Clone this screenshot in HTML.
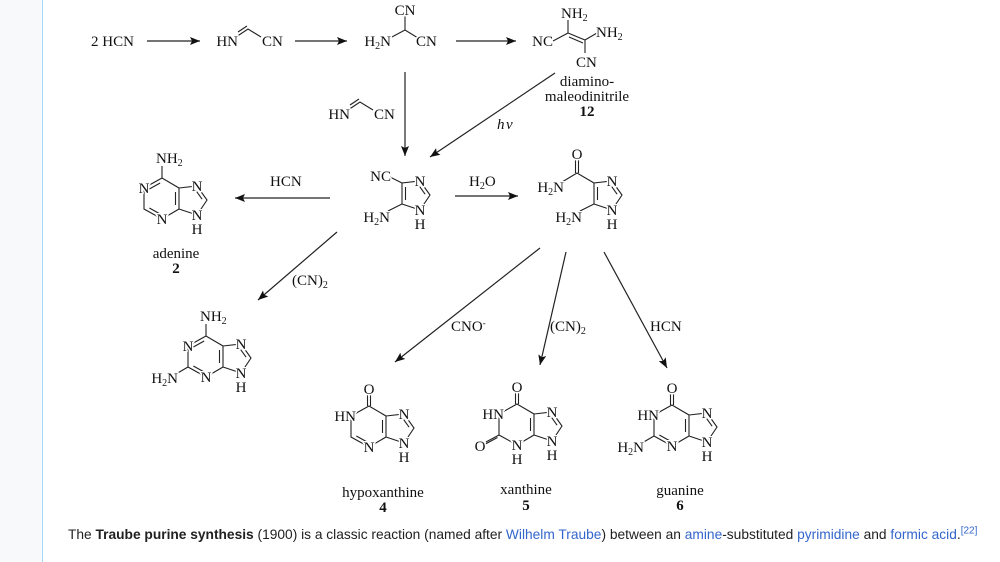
<!DOCTYPE html>
<html><head><meta charset="utf-8"><style>
html,body{margin:0;padding:0;background:#fff;}
body{width:1000px;height:562px;position:relative;overflow:hidden;}
.side{position:absolute;left:0;top:0;width:42px;height:562px;background:#f8f9fa;border-right:1px solid #a7d7f9;}
svg{position:absolute;left:0;top:0;}
svg text{font-family:"Liberation Serif",serif;font-size:15px;fill:#111;stroke:#fff;stroke-width:3px;paint-order:stroke;stroke-linejoin:round;}
svg text.nb{stroke:none;}
.cap{position:absolute;left:68px;top:527px;font-family:"Liberation Sans",Arial,sans-serif;font-size:13.75px;color:#202122;white-space:nowrap;}
.cap a{color:#3366cc;text-decoration:none;}
.cap sup{font-size:10px;line-height:0;}
</style></head><body>
<div class="side"></div>
<svg width="1000" height="562" viewBox="0 0 1000 562">
<defs>
<marker id="ah" viewBox="0 0 10 8" refX="10" refY="4" markerWidth="10" markerHeight="8" markerUnits="userSpaceOnUse" orient="auto">
<path d="M0,0 L10,4 L0,8 L2,4 z" fill="#111"/>
</marker>
<g id="pur" stroke="#222" stroke-width="1.1" fill="none">
<path d="M0,0 L-18,10 L-18,31 L0,41 L17,31 L17,10 Z M17,10 L35,8 L45,22 L35,37 L17,31"/>
<path d="M13.5,14 L13.5,27 M34.1,12.8 L40.1,21.2"/>
</g>
<g id="imd" stroke="#222" stroke-width="1.1" fill="none">
<path d="M17,10 L17,31 L35,37 L45,22 L35,8 Z M20.5,14 L20.5,27 M34.1,12.8 L40.1,21.2"/>
</g>
</defs>

<g stroke="#222" stroke-width="1.2" fill="none" marker-end="url(#ah)">
<line x1="147" y1="41" x2="200" y2="41"/>
<line x1="295" y1="41" x2="347" y2="41"/>
<line x1="456" y1="41" x2="516" y2="41"/>
<line x1="405" y1="72" x2="405" y2="156"/>
<line x1="555" y1="73" x2="430" y2="157"/>
<line x1="330" y1="198" x2="235" y2="198"/>
<line x1="455" y1="196" x2="518" y2="196"/>
<line x1="337" y1="232" x2="258" y2="300"/>
<line x1="540" y1="248" x2="395" y2="362"/>
<line x1="566" y1="252" x2="540" y2="365"/>
<line x1="604" y1="252" x2="667" y2="368"/>
</g>

<text class="nb" x="91" y="46">2 HCN</text>
<g stroke="#222" stroke-width="1.1" fill="none">
<path d="M236,37 L248,29 L261,37 M238,32 L247,26"/>
<path d="M348,110 L360,102 L373,110 M350,105 L359,99"/>
<path d="M390,38 L405,30 L418,38 M405,30 L405,16"/>
<path d="M553,41 L568,33 L568,20 M568,33 L585,40 L597,33 M585,40 L585,53 M569,37 L583,43"/>
</g>
<text x="238" y="46" text-anchor="end">HN</text>
<text x="262" y="46">CN</text>
<text x="350" y="119" text-anchor="end">HN</text>
<text x="374" y="119">CN</text>
<text x="391" y="46" text-anchor="end">H<tspan font-size="10" dy="3">2</tspan><tspan dy="-3">N</tspan></text>
<text x="416" y="46">CN</text>
<text x="405" y="15" text-anchor="middle">CN</text>
<text x="553" y="46" text-anchor="end">NC</text>
<text x="561" y="18">NH<tspan font-size="10" dy="3">2</tspan></text>
<text x="596" y="37">NH<tspan font-size="10" dy="3">2</tspan></text>
<text x="576" y="67">CN</text>
<text class="nb" x="587" y="86" text-anchor="middle">diamino-</text>
<text class="nb" x="587" y="101" text-anchor="middle">maleodinitrile</text>
<text class="nb" x="587" y="116" text-anchor="middle" font-weight="bold">12</text>
<text class="nb" x="497" y="129" font-style="italic">h</text>
<text class="nb" x="506" y="129" font-style="italic">ν</text>

<text class="nb" x="270" y="186">HCN</text>
<text class="nb" x="469" y="186">H<tspan font-size="10" dy="3">2</tspan><tspan dy="-3">O</tspan></text>
<text class="nb" x="292" y="285">(CN)<tspan font-size="10" dy="3">2</tspan></text>
<text class="nb" x="451" y="331">CNO<tspan font-size="9" dy="-5">-</tspan></text>
<text class="nb" x="550" y="331">(CN)<tspan font-size="10" dy="3">2</tspan></text>
<text class="nb" x="650" y="331">HCN</text>

<g transform="translate(385,173)">
<use href="#imd"/>
<path d="M17,10 L5,4 M17,31 L3,38" stroke="#222" stroke-width="1.1"/>
<text x="6" y="8" text-anchor="end">NC</text>
<text x="5" y="49" text-anchor="end">H<tspan font-size="10" dy="3">2</tspan><tspan dy="-3">N</tspan></text>
<text x="35" y="13" text-anchor="middle">N</text>
<text x="35" y="42" text-anchor="middle">N</text>
<text x="35" y="56" text-anchor="middle">H</text>
</g>

<g transform="translate(577,173)">
<use href="#imd"/>
<path d="M17,10 L0,0 L-15,9 M-1.5,0 L-1.5,-14 M1.5,0 L1.5,-14 M17,31 L3,38" stroke="#222" stroke-width="1.1" fill="none"/>
<text x="0" y="-14" text-anchor="middle">O</text>
<text x="-13" y="19" text-anchor="end">H<tspan font-size="10" dy="3">2</tspan><tspan dy="-3">N</tspan></text>
<text x="5" y="49" text-anchor="end">H<tspan font-size="10" dy="3">2</tspan><tspan dy="-3">N</tspan></text>
<text x="35" y="13" text-anchor="middle">N</text>
<text x="35" y="42" text-anchor="middle">N</text>
<text x="35" y="56" text-anchor="middle">H</text>
</g>

<g transform="translate(162,178)">
<use href="#pur"/>
<path d="M0,0 L0,-12 M-1.85,5 L-12.65,11 M-12.65,30 L-1.85,36" stroke="#222" stroke-width="1.1"/>
<text x="-6" y="-15">NH<tspan font-size="10" dy="3">2</tspan></text>
<text x="-18" y="15" text-anchor="middle">N</text>
<text x="0" y="46" text-anchor="middle">N</text>
<text x="35" y="13" text-anchor="middle">N</text>
<text x="35" y="42" text-anchor="middle">N</text>
<text x="35" y="56" text-anchor="middle">H</text>
<text class="nb" x="14" y="80" text-anchor="middle">adenine</text>
<text class="nb" x="14" y="95" text-anchor="middle" font-weight="bold">2</text>
</g>

<g transform="translate(206,336)">
<use href="#pur"/>
<path d="M0,0 L0,-12 M-1.85,5 L-12.65,11 M-12.65,30 L-1.85,36 M-18,31 L-30,38" stroke="#222" stroke-width="1.1"/>
<text x="-6" y="-15">NH<tspan font-size="10" dy="3">2</tspan></text>
<text x="-18" y="15" text-anchor="middle">N</text>
<text x="0" y="46" text-anchor="middle">N</text>
<text x="-28" y="47" text-anchor="end">H<tspan font-size="10" dy="3">2</tspan><tspan dy="-3">N</tspan></text>
<text x="35" y="13" text-anchor="middle">N</text>
<text x="35" y="42" text-anchor="middle">N</text>
<text x="35" y="56" text-anchor="middle">H</text>
</g>

<g transform="translate(369,406)">
<use href="#pur"/>
<path d="M-1.5,0 L-1.5,-12 M1.5,0 L1.5,-12 M-12.65,30 L-1.85,36" stroke="#222" stroke-width="1.1"/>
<text x="0" y="-12" text-anchor="middle">O</text>
<text x="-13" y="15" text-anchor="end">HN</text>
<text x="0" y="46" text-anchor="middle">N</text>
<text x="35" y="13" text-anchor="middle">N</text>
<text x="35" y="42" text-anchor="middle">N</text>
<text x="35" y="56" text-anchor="middle">H</text>
<text class="nb" x="14" y="91" text-anchor="middle">hypoxanthine</text>
<text class="nb" x="14" y="106" text-anchor="middle" font-weight="bold">4</text>
</g>

<g transform="translate(517,404)">
<use href="#pur"/>
<path d="M-1.5,0 L-1.5,-12 M1.5,0 L1.5,-12 M-18,31 L-31,38 M-19.5,33.5 L-32.5,40.5" stroke="#222" stroke-width="1.1"/>
<text x="0" y="-12" text-anchor="middle">O</text>
<text x="-13" y="15" text-anchor="end">HN</text>
<text x="-37" y="47" text-anchor="middle">O</text>
<text x="0" y="46" text-anchor="middle">N</text>
<text x="0" y="60" text-anchor="middle">H</text>
<text x="35" y="13" text-anchor="middle">N</text>
<text x="35" y="42" text-anchor="middle">N</text>
<text x="35" y="56" text-anchor="middle">H</text>
<text class="nb" x="9" y="90" text-anchor="middle">xanthine</text>
<text class="nb" x="9" y="106" text-anchor="middle" font-weight="bold">5</text>
</g>

<g transform="translate(672,405)">
<use href="#pur"/>
<path d="M-1.5,0 L-1.5,-12 M1.5,0 L1.5,-12 M-12.65,30 L-1.85,36 M-18,31 L-30,38" stroke="#222" stroke-width="1.1"/>
<text x="0" y="-12" text-anchor="middle">O</text>
<text x="-13" y="15" text-anchor="end">HN</text>
<text x="-28" y="47" text-anchor="end">H<tspan font-size="10" dy="3">2</tspan><tspan dy="-3">N</tspan></text>
<text x="0" y="46" text-anchor="middle">N</text>
<text x="35" y="13" text-anchor="middle">N</text>
<text x="35" y="42" text-anchor="middle">N</text>
<text x="35" y="56" text-anchor="middle">H</text>
<text class="nb" x="8" y="90" text-anchor="middle">guanine</text>
<text class="nb" x="8" y="105" text-anchor="middle" font-weight="bold">6</text>
</g>
</svg>
<div class="cap">The <b>Traube purine synthesis</b> (1900) is a classic reaction (named after <a>Wilhelm Traube</a>) between an <a>amine</a>-substituted <a>pyrimidine</a> and <a>formic acid</a>.<sup><a>[22]</a></sup></div>
</body></html>
